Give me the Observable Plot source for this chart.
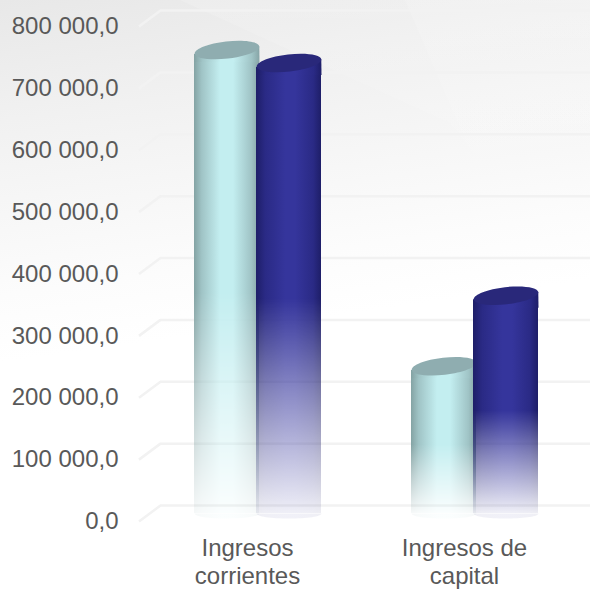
<!DOCTYPE html>
<html><head><meta charset="utf-8">
<script src="https://cdn.jsdelivr.net/npm/d3@7"></script>
<script src="https://cdn.jsdelivr.net/npm/@observablehq/plot@0.6"></script>
<style>
html,body{margin:0;padding:0;width:590px;height:589px;overflow:hidden;background:#fff}
#c{position:relative;width:590px;height:589px;
background:linear-gradient(172deg,#e8e8e8 0,#f1f1f1 18%,#f7f7f7 32%,#fcfcfc 44%,#fff 54%);}
.f{position:absolute;inset:0;pointer-events:none}
#c svg{position:relative;display:block;background:transparent!important}
</style></head><body><div id="c"><div class="f" style="background:linear-gradient(rgba(255,255,255,.15),rgba(255,255,255,0) 45%);clip-path:polygon(180px 0,590px 0,590px 300px,450px 123px)"></div><div class="f" style="background:linear-gradient(rgba(255,255,255,.15),rgba(255,255,255,0) 40%);clip-path:polygon(405px 0,590px 0,590px 240px,503px 227px)"></div></div>
<script>
const categories = ["Ingresos corrientes", "Ingresos de capital"];
const seriesNames = ["A", "B"];
const seriesA = [749000, 238000];
const seriesB = [728000, 352000];
const yTicks = [0, 100000, 200000, 300000, 400000, 500000, 600000, 700000, 800000];

const rows = categories.flatMap((c, i) => [
  {category: c, series: "A", value: seriesA[i]},
  {category: c, series: "B", value: seriesB[i]}
]);
const fmt = v => d3.format(",.1f")(v).replace(/,/g, " ").replace(".", ",");

const rx = 32.5, ry = 8.6, tilt = -6.5 * Math.PI / 180, k = 0.5523;
const pt = (a, b) => [a * Math.cos(tilt) - b * Math.sin(tilt), a * Math.sin(tilt) + b * Math.cos(tilt)];
function ellipse(ctx) {
  const p = pt;
  ctx.moveTo(...p(rx, 0));
  ctx.bezierCurveTo(...p(rx, k * ry), ...p(k * rx, ry), ...p(0, ry));
  ctx.bezierCurveTo(...p(-k * rx, ry), ...p(-rx, k * ry), ...p(-rx, 0));
  ctx.bezierCurveTo(...p(-rx, -k * ry), ...p(-k * rx, -ry), ...p(0, -ry));
  ctx.bezierCurveTo(...p(k * rx, -ry), ...p(rx, -k * ry), ...p(rx, 0));
  ctx.closePath();
}
const capSymbol = {draw(ctx) { ellipse(ctx); }};
const neckSymbol = {draw(ctx) {
  ctx.moveTo(...pt(-rx, 0)); ctx.lineTo(...pt(rx, 0));
  ctx.lineTo(rx, 12); ctx.lineTo(-rx, 12); ctx.closePath();
}};
const baseSymbol = {draw(ctx) {
  ctx.moveTo(-rx, 0); ctx.lineTo(rx, 0);
  ctx.bezierCurveTo(rx, 3, k * rx, 5, 0, 5);
  ctx.bezierCurveTo(-k * rx, 5, -rx, 3, -rx, 0);
  ctx.closePath();
}};
const diagSymbol = {draw(ctx) { ctx.moveTo(0, 0); ctx.lineTo(21.5, -16); }};

let defsDone = false;
const defs = () => {
  if (defsDone) return null;
  defsDone = true;
  const ns = "http://www.w3.org/2000/svg";
  const d = document.createElementNS(ns, "defs");
  d.innerHTML = `
  <linearGradient id="gA"><stop offset="0" stop-color="#84a3a4"/><stop offset=".12" stop-color="#a0c4c6"/><stop offset=".4" stop-color="#c3eef0"/><stop offset=".6" stop-color="#c3eef0"/><stop offset=".88" stop-color="#a0c4c6"/><stop offset="1" stop-color="#86a4a6"/></linearGradient>
  <linearGradient id="gB"><stop offset="0" stop-color="#1e1e68"/><stop offset=".14" stop-color="#2a2a85"/><stop offset=".45" stop-color="#35359c"/><stop offset=".6" stop-color="#35359c"/><stop offset=".88" stop-color="#2a2a85"/><stop offset="1" stop-color="#1e1e68"/></linearGradient>
  <linearGradient id="fade" x1="0" y1="0" x2="0" y2="1"><stop offset="0" stop-color="#fff"/><stop offset=".52" stop-color="#fff"/><stop offset=".72" stop-color="#999"/><stop offset="1" stop-color="#141414"/></linearGradient>
  <mask id="fm" maskContentUnits="objectBoundingBox" x="0" y="0" width="1" height="1"><rect width="1" height="1" fill="url(#fade)"/></mask>`;
  return d;
};
const masked = (index, scales, values, dims, ctx, next) => {
  const g = next(index, scales, values, dims, ctx);
  d3.select(g).selectAll("rect").attr("mask", "url(#fm)");
  return g;
};

const liftY = -8;
const layers = seriesNames.flatMap(s => {
  const data = rows.filter(r => r.series === s);
  const grad = `url(#g${s})`;
  const top = s === "A" ? "#8fadb0" : "#29287a";
  const base = {fx: "category", x: "series", dx: -0.5};
  return [
    Plot.dot(data, {...base, y: () => 0, symbol: baseSymbol, r: 5, fill: grad, fillOpacity: .07, dy: liftY}),
    Plot.barY(data, {fx: "category", x: "series", y: "value", fill: grad, dy: liftY, insetLeft: -2, insetRight: -1, insetTop: 4, render: masked}),
    Plot.dot(data, {...base, y: "value", symbol: neckSymbol, r: 5, fill: grad, dy: liftY}),
    Plot.dot(data, {...base, y: "value", symbol: capSymbol, r: 5, fill: top, dy: liftY})
  ];
});

const firstFacet = () => categories[0];
const chart = Plot.plot({
  width: 590, height: 589,
  marginLeft: 0, marginRight: 0, marginTop: 0, marginBottom: 60,
  style: {background: "transparent", fontFamily: "'Liberation Sans', Arial, sans-serif"},
  fx: {domain: categories, range: [152, 581], paddingInner: .4285, paddingOuter: .2, axis: null, label: null},
  x: {domain: seriesNames, padding: 0, axis: null},
  y: {domain: [0, 800000], range: [521, 26], axis: null},
  marks: [
    defs,
    Plot.ruleY(yTicks, {y: d => d, fx: firstFacet, insetLeft: -36, insetRight: -270, dy: -16, stroke: "#f2f2f2", strokeWidth: 2.5}),
    Plot.dot(yTicks, {y: d => d, fx: firstFacet, frameAnchor: "left", dx: -57.5, symbol: diagSymbol, r: 5, fill: "none", stroke: "#f2f2f2", strokeWidth: 2.5}),
    ...layers,
    Plot.axisY({ticks: yTicks, tickFormat: fmt, tickSize: 0, tickPadding: 0, dx: -78, dy: 0, fontSize: 24, fill: "#595959", label: null}),
    Plot.axisFx({anchor: "bottom", tickSize: 0, tickPadding: 6.5, lineWidth: 6.6, lineHeight: 1.18, dx: -11, fontSize: 24, fill: "#595959", label: null, textOverflow: null})
  ]
});
document.getElementById("c").append(chart);
</script></body></html>
